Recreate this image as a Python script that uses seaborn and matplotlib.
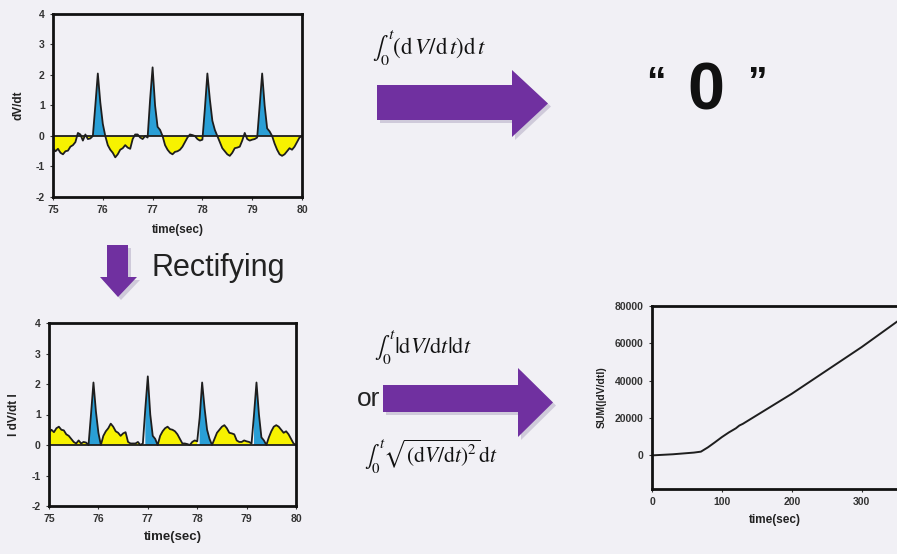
import numpy as np
import pandas as pd
import matplotlib
matplotlib.use("Agg")
import matplotlib.pyplot as plt
from matplotlib.patches import Polygon
import seaborn as sns

# ---------------- data ----------------
sig_time = [75.0, 75.05, 75.1, 75.15, 75.2, 75.25, 75.3, 75.35, 75.4, 75.45, 75.5, 75.55,
            75.6, 75.65, 75.7, 75.75, 75.8, 75.85, 75.9, 75.95, 76.0, 76.05, 76.1, 76.15,
            76.2, 76.25, 76.3, 76.35, 76.4, 76.45, 76.5, 76.55, 76.6, 76.65, 76.7, 76.75,
            76.8, 76.85, 76.9, 76.95, 77.0, 77.05, 77.1, 77.15, 77.2, 77.25, 77.3, 77.35,
            77.4, 77.45, 77.5, 77.55, 77.6, 77.65, 77.7, 77.75, 77.8, 77.85, 77.9, 77.95,
            78.0, 78.05, 78.1, 78.15, 78.2, 78.25, 78.3, 78.35, 78.4, 78.45, 78.5, 78.55,
            78.6, 78.65, 78.7, 78.75, 78.8, 78.85, 78.9, 78.95, 79.0, 79.05, 79.1, 79.15,
            79.2, 79.25, 79.3, 79.35, 79.4, 79.45, 79.5, 79.55, 79.6, 79.65, 79.7, 79.75,
            79.8, 79.85, 79.9, 79.95, 80.0]
sig_dvdt = [-0.40, -0.50, -0.42, -0.55, -0.60, -0.50, -0.48, -0.35, -0.30, -0.20, 0.10, 0.05,
            -0.15, 0.05, -0.10, -0.08, 0.00, 1.00, 2.05, 1.10, 0.40, 0.00, -0.30, -0.45,
            -0.55, -0.70, -0.60, -0.45, -0.40, -0.30, -0.38, -0.42, -0.10, 0.05, 0.05, -0.05,
            -0.10, 0.00, -0.05, 1.20, 2.25, 1.00, 0.30, 0.20, 0.00, -0.30, -0.45, -0.55,
            -0.60, -0.52, -0.50, -0.45, -0.35, -0.20, -0.05, 0.05, 0.03, 0.00, -0.10, -0.15,
            -0.12, 0.90, 2.05, 1.20, 0.50, 0.20, 0.00, -0.20, -0.40, -0.50, -0.60, -0.65,
            -0.55, -0.40, -0.38, -0.35, -0.15, 0.10, -0.10, -0.15, -0.12, -0.10, -0.05, 1.00,
            2.05, 1.00, 0.25, 0.15, 0.00, -0.25, -0.45, -0.60, -0.65, -0.60, -0.50, -0.40,
            -0.45, -0.35, -0.20, -0.05, 0.00]

sum_time = [0, 10, 20, 30, 40, 50, 60, 70, 80, 90, 100, 110, 120, 125, 130, 150, 200, 250, 300, 352]
sum_value = [0, 200, 400, 600, 900, 1200, 1500, 2000, 4300, 7000, 9800, 12300, 14500, 16000,
             16900, 21500, 33000, 45500, 58000, 72000]

left_yticks = [-2, -1, 0, 1, 2, 3, 4]
left_xticks = [75, 76, 77, 78, 79, 80]
sum_yticks = [0, 20000, 40000, 60000, 80000]
sum_xticks = [0, 100, 200, 300]

BG = "#f1f0f5"
BLUE = "#2a9fd6"
YELLOW = "#f7f200"
PURPLE = "#7030a0"
LINE = "#1e1e1e"

sns.set_theme(style="white")
plt.rcParams["font.family"] = ["Liberation Sans", "DejaVu Sans"]
plt.rcParams["mathtext.fontset"] = "stix"
plt.rcParams["axes.unicode_minus"] = False

W, H = 897, 554
fig = plt.figure(figsize=(W / 100, H / 100), dpi=100)
fig.patch.set_facecolor(BG)


def px_axes(left, top, right, bottom):
    return fig.add_axes([left / W, 1 - bottom / H, (right - left) / W, (bottom - top) / H])


def style_axes(ax):
    ax.set_facecolor(BG)
    for s in ax.spines.values():
        s.set_color("#111111")
        s.set_linewidth(2.0)
    ax.tick_params(axis="both", which="both", length=2, width=0.8, color="#333333",
                   labelsize=7.5, labelcolor="#333333", pad=4, direction="out",
                   bottom=True, left=True)
    for lab in ax.get_xticklabels() + ax.get_yticklabels():
        lab.set_fontweight("bold")


df = pd.DataFrame({"t": sig_time, "v": sig_dvdt})
df["absv"] = df["v"].abs()
t = df["t"].to_numpy()
v = df["v"].to_numpy()
av = df["absv"].to_numpy()

# ---------- top-left: dV/dt ----------
ax1 = px_axes(53, 14, 302, 197)
ax1.fill_between(t, 0, v, where=v >= 0, interpolate=True, color=BLUE, lw=0)
ax1.fill_between(t, 0, v, where=v <= 0, interpolate=True, color=YELLOW, lw=0)
sns.lineplot(data=df, x="t", y="v", ax=ax1, color=LINE, lw=1.3)
ax1.axhline(0, color=LINE, lw=1.3)
ax1.set_xlim(75, 80)
ax1.set_ylim(-2, 4)
ax1.set_xticks(left_xticks)
ax1.set_yticks(left_yticks)
ax1.set_xlabel("time(sec)", fontsize=8.5, fontweight="bold", color="#222222", labelpad=6)
ax1.set_ylabel("dV/dt", fontsize=8.5, fontweight="bold", color="#222222", labelpad=8)
style_axes(ax1)

# ---------- bottom-left: |dV/dt| ----------
ax2 = px_axes(49, 323, 296, 506)
big = av >= 1.0
peak_mask = np.zeros_like(av, dtype=bool)
for i in np.where(big)[0]:
    j = i
    while j > 0 and v[j - 1] > 0:
        j -= 1
    k = i
    while k < len(v) - 1 and v[k + 1] > 0:
        k += 1
    peak_mask[max(j - 1, 0):k + 2] = True
ax2.fill_between(t, 0, av, where=~peak_mask | (v < 0), interpolate=True, color=YELLOW, lw=0)
ax2.fill_between(t, 0, av, where=peak_mask & (v >= 0), interpolate=False, color=BLUE, lw=0)
sns.lineplot(data=df, x="t", y="absv", ax=ax2, color=LINE, lw=1.3)
ax2.axhline(0, color=LINE, lw=1.3)
ax2.set_xlim(75, 80)
ax2.set_ylim(-2, 4)
ax2.set_xticks(left_xticks)
ax2.set_yticks(left_yticks)
ax2.set_xlabel("time(sec)", fontsize=9.5, fontweight="bold", color="#222222", labelpad=5)
ax2.set_ylabel("l dV/dt l", fontsize=8.5, fontweight="bold", color="#222222", labelpad=8)
style_axes(ax2)

# ---------- right: cumulative sum ----------
ax3 = px_axes(652, 306, 898, 489)
sdf = pd.DataFrame({"time": sum_time, "sum": sum_value})
sns.lineplot(data=sdf, x="time", y="sum", ax=ax3, color=LINE, lw=1.4)
ax3.set_xlim(0, 352)
ax3.set_ylim(-18000, 80000)
ax3.set_xticks(sum_xticks)
ax3.set_yticks(sum_yticks)
ax3.set_xticklabels([str(x) for x in sum_xticks])
ax3.set_yticklabels([str(y) for y in sum_yticks])
ax3.set_xlabel("time(sec)", fontsize=8.5, fontweight="bold", color="#222222", labelpad=5)
ax3.set_ylabel("SUM(|dV/dtl)", fontsize=7.5, fontweight="bold", color="#222222", labelpad=6)
style_axes(ax3)

# ---------- overlay: arrows and text ----------
ov = fig.add_axes([0, 0, 1, 1], zorder=10)
ov.set_xlim(0, W)
ov.set_ylim(H, 0)
ov.axis("off")
ov.patch.set_alpha(0)


def h_arrow(x0, y0, y1, xh, yh0, yh1, xtip):
    ymid = (yh0 + yh1) / 2
    pts = [(x0, y0), (xh, y0), (xh, yh0), (xtip, ymid), (xh, yh1), (xh, y1), (x0, y1)]
    sh = [(x + 3, y + 3) for x, y in pts]
    ov.add_patch(Polygon(sh, closed=True, facecolor="#b9b2c8", edgecolor="none", alpha=0.6))
    ov.add_patch(Polygon(pts, closed=True, facecolor=PURPLE, edgecolor="none"))


h_arrow(377, 85, 120, 512, 70, 137, 548)
h_arrow(383, 385, 412, 518, 368, 437, 553)

down = [(107, 245), (128, 245), (128, 277), (137, 277), (118, 297), (100, 277), (107, 277)]
ov.add_patch(Polygon([(x + 3, y + 3) for x, y in down], closed=True, facecolor="#b9b2c8",
                     edgecolor="none", alpha=0.6))
ov.add_patch(Polygon(down, closed=True, facecolor=PURPLE, edgecolor="none"))

ov.text(372, 48, r"$\int_0^t(\mathrm{d}\,V/\mathrm{d}\,t)\mathrm{d}\,t$", fontsize=16.5,
        ha="left", va="center", color="#111111")
ov.text(656, 84, "\u201c", fontsize=28, fontweight="bold", ha="center", va="center", color="#111111")
ov.text(706, 93, "0", fontsize=48, fontweight="bold", ha="center", va="center", color="#111111")
ov.text(757, 84, "\u201d", fontsize=28, fontweight="bold", ha="center", va="center", color="#111111")

ov.text(152, 268, "Rectifying", fontsize=22, ha="left", va="center", color="#222222")
ov.text(357, 399, "or", fontsize=19, ha="left", va="center", color="#222222")
ov.text(374, 348, r"$\int_0^t\left|\mathrm{d}V/\mathrm{d}t\right|\mathrm{d}t$", fontsize=16,
        ha="left", va="center", color="#111111")
ov.text(364, 457, r"$\int_0^t\sqrt{(\mathrm{d}V/\mathrm{d}t)^2}\mathrm{d}t$", fontsize=15.5,
        ha="left", va="center", color="#111111")

fig.savefig("out.png", dpi=100, facecolor=BG)
